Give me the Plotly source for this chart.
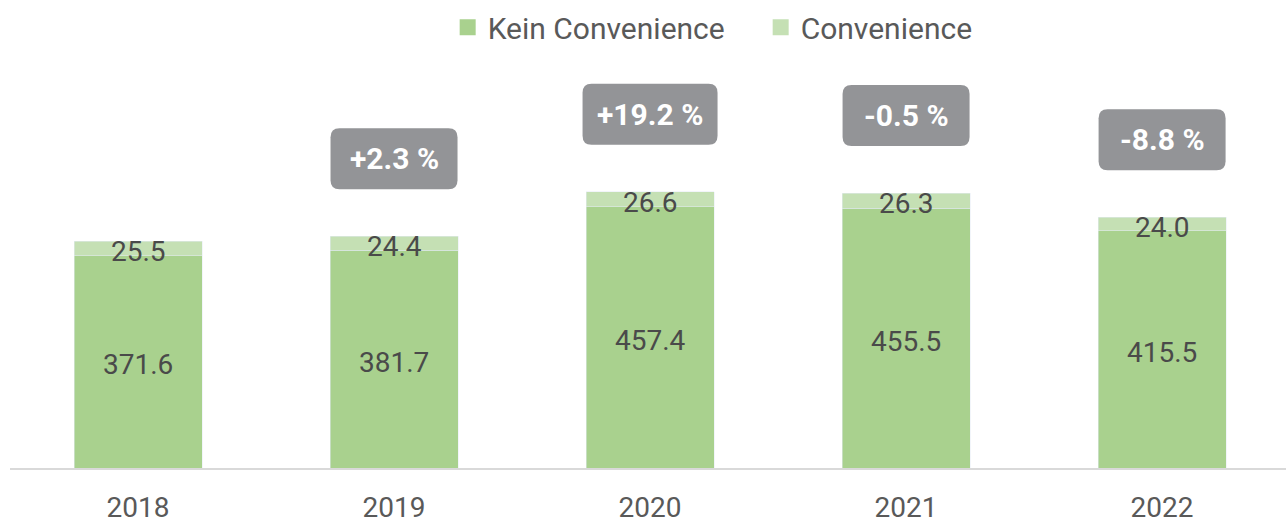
import plotly.graph_objects as go

years = ["2018", "2019", "2020", "2021", "2022"]
kein = [371.6, 381.7, 457.4, 455.5, 415.5]
conv = [25.5, 24.4, 26.6, 26.3, 24.0]
changes = ["", "+2.3 %", "+19.2 %", "-0.5 %", "-8.8 %"]

W, H = 1286, 523
ML, MR, MT, MB = 10, 0, 40, 55
XR = [-0.5, 4.484]
YR = [0, 750]
px_x = (W - ML - MR) / (XR[1] - XR[0])
px_y = (H - MT - MB) / (YR[1] - YR[0])

xs = list(range(len(years)))
FONT = "Roboto"
GREEN = "#a9d18e"
LGREEN = "#c5e0b4"
LBL = "#4a4a4a"

fig = go.Figure()
fig.add_trace(go.Bar(
    x=xs, y=kein, name="Kein Convenience", marker_color=GREEN, width=0.5,
    hoverinfo="skip", showlegend=False))
fig.add_trace(go.Bar(
    x=xs, y=conv, name="Convenience", marker_color=LGREEN, width=0.5,
    hoverinfo="skip", showlegend=False))
# legend entries with larger square markers
for name, col in [("Kein Convenience", GREEN), ("Convenience", LGREEN)]:
    fig.add_trace(go.Scatter(x=[None], y=[None], mode="markers", name=name,
                             marker=dict(symbol="square", size=16, color=col)))

annotations = []
shapes = []
for i, (k, c, ch) in enumerate(zip(kein, conv, changes)):
    annotations.append(dict(x=i, y=k / 2, text=f"{k:.1f}", showarrow=False,
                            font=dict(family=FONT, size=28, color=LBL),
                            xref="x", yref="y", yshift=-3))
    annotations.append(dict(x=i, y=k + c / 2, text=f"{c:.1f}", showarrow=False,
                            font=dict(family=FONT, size=28, color=LBL),
                            xref="x", yref="y", yshift=-3))
    if ch:
        total = k + c
        bw = (127 if len(ch) <= 6 else 135) / px_x
        y0 = total + 47 / px_y
        y1 = y0 + 61 / px_y
        x0, x1 = i - bw / 2, i + bw / 2
        rx, ry = 9 / px_x, 9 / px_y
        path = (f"M {x0+rx},{y0} L {x1-rx},{y0} Q {x1},{y0} {x1},{y0+ry} "
                f"L {x1},{y1-ry} Q {x1},{y1} {x1-rx},{y1} L {x0+rx},{y1} "
                f"Q {x0},{y1} {x0},{y1-ry} L {x0},{y0+ry} Q {x0},{y0} {x0+rx},{y0} Z")
        shapes.append(dict(type="path", path=path, xref="x", yref="y",
                           fillcolor="#939497", line=dict(width=0), layer="above"))
        annotations.append(dict(x=i, y=(y0 + y1) / 2, text=f"<b>{ch}</b>", showarrow=False,
                                font=dict(family=FONT, size=30, color="white"),
                                xref="x", yref="y"))

fig.update_layout(
    width=W, height=H, barmode="stack",
    margin=dict(l=ML, r=MR, t=MT, b=MB, autoexpand=False),
    plot_bgcolor="white", paper_bgcolor="white",
    font=dict(family=FONT, color="#595959"),
    legend=dict(orientation="h", x=0.343, xanchor="left", yref="container",
                y=0.948, yanchor="middle",
                font=dict(family=FONT, size=30, color="#595959"),
                itemsizing="trace", traceorder="normal", itemwidth=30,
                entrywidth=268, entrywidthmode="pixels", tracegroupgap=0),
    xaxis=dict(range=XR, tickmode="array", tickvals=xs, ticktext=years,
               showgrid=False, zeroline=False, showline=True, linecolor="#d9d9d9",
               linewidth=2, ticks="", automargin=False, ticklabelstandoff=13,
               tickfont=dict(family=FONT, size=28, color="#595959")),
    yaxis=dict(range=YR, visible=False, showgrid=False, automargin=False),
    annotations=annotations, shapes=shapes, showlegend=True,
)
fig.write_html("out.html", config={"displayModeBar": False},
               post_script="document.body.style.margin='0';document.body.style.overflow='hidden';")
